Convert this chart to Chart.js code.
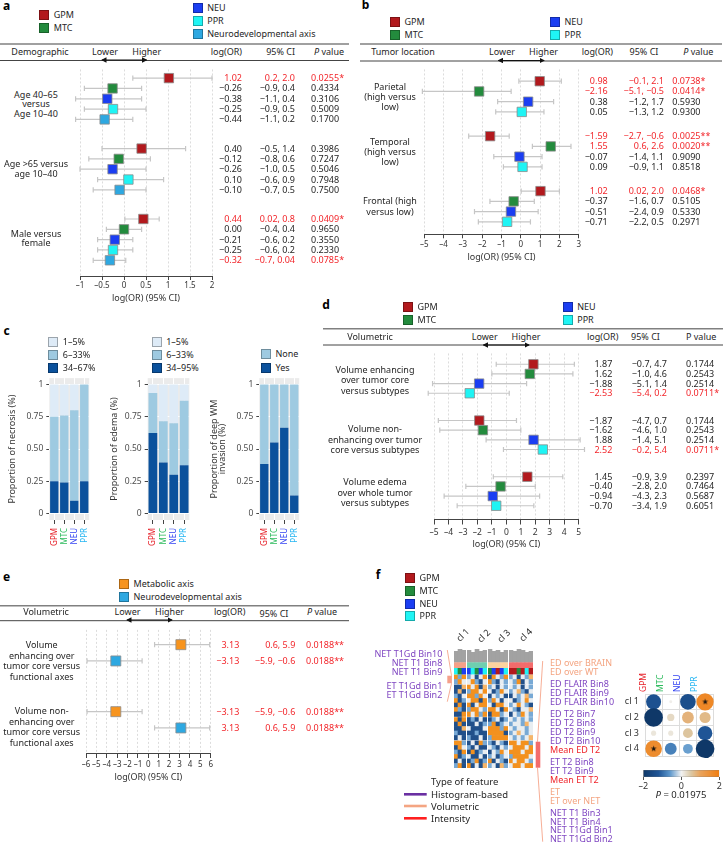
<!DOCTYPE html>
<html>
<head>
<meta charset="utf-8">
<title>Radiomic subtype associations</title>
<script src="https://cdn.jsdelivr.net/npm/chart.js@4.4.1/dist/chart.umd.min.js"></script>
<style>
  html, body { margin: 0; padding: 0; background: #fff; }
  body { position: relative; width: 723px; height: 844px; overflow: hidden;
         font-family: 'Noto Sans', sans-serif; color: #262626; }
  canvas { position: absolute; }
  .t { position: absolute; white-space: pre; font-size: 9px; line-height: 1.15; }
  .sq { position: absolute; width: 10px; height: 10px; box-sizing: border-box; border: 0.6px solid rgba(0,0,0,0.3); }
  svg { position: absolute; left: 0; top: 0; }
</style>
</head>
<body>
<svg width="723" height="844">
  <defs>
    <marker id="ah" viewBox="0 0 6 6" refX="5" refY="3" markerWidth="4.5" markerHeight="4.5" orient="auto-start-reverse">
      <path d="M0,0 L6,3 L0,6 z" fill="#111"/>
    </marker>
  </defs>
  <!-- header rules -->
  <g stroke="#808080" stroke-width="1.4">
    <line x1="0" y1="44" x2="349" y2="44"/>
    <line x1="360" y1="44" x2="722" y2="44"/>
    <line x1="323" y1="328.7" x2="723" y2="328.7"/>
    <line x1="0" y1="605.7" x2="349" y2="605.7"/>
  </g>
  <g stroke="#444" stroke-width="1">
    <line x1="0" y1="60.5" x2="349" y2="60.5"/>
    <line x1="360" y1="61" x2="722" y2="61"/>
    <line x1="323" y1="345" x2="723" y2="345"/>
    <line x1="0" y1="620.7" x2="349" y2="620.7"/>
  </g>
  <!-- lower / higher arrows -->
  <g stroke="#111" stroke-width="1.2" marker-start="url(#ah)" marker-end="url(#ah)">
    <line x1="102" y1="60" x2="146.5" y2="60"/>
    <line x1="498.5" y1="60.5" x2="544" y2="60.5"/>
    <line x1="483.5" y1="345" x2="529" y2="345"/>
    <line x1="127" y1="620" x2="172" y2="620"/>
  </g>
  <!-- f brackets -->
  <g stroke="#f5a58a" stroke-width="0.9" fill="none">
    <polyline points="447.3,650 451.5,675.7"/>
    <polyline points="451.5,683.3 447.3,701.7"/>
    <polyline points="542.7,661 537.5,741.7"/>
    <polyline points="537.5,767.7 542.7,841.7"/>
  </g>
  <rect x="447.3" y="675.7" width="4.6" height="7.6" fill="#f5a08a"/>
  <rect x="535.7" y="741.7" width="4.6" height="26" fill="#f36c6c"/>
  <!-- type of feature legend -->
  <line x1="404" y1="794.3" x2="426.7" y2="794.3" stroke="#6a2fa2" stroke-width="2.6"/>
  <line x1="404" y1="806" x2="426.7" y2="806" stroke="#f4a582" stroke-width="2.6"/>
  <line x1="404" y1="818.3" x2="426.7" y2="818.3" stroke="#ff1f1f" stroke-width="2.6"/>
</svg>
<script>
// ---------- shared ----------
const subtypes = ['GPM', 'MTC', 'NEU', 'PPR'];
const markColor = {
  GPM: '#b2191d', MTC: '#238b3d', NEU: '#1b3ef2', PPR: '#1ff4f4',
  'Neurodevelopmental axis': '#2ea8e1', 'Metabolic axis': '#f7941e'
};
const tagColor = {GPM: '#e61f27', MTC: '#2dbb5d', NEU: '#3444f2', PPR: '#27b6f2'};
const RED = '#f2262b';

// ---------- a: demographic ----------
const aSeries = ['GPM', 'MTC', 'NEU', 'PPR', 'Neurodevelopmental axis'];
const aGroups = ['Age 40–65\nversus\nAge 10–40', 'Age >65 versus\nage 10–40', 'Male versus\nfemale'];
const aLogOR = [1.02, -0.26, -0.38, -0.25, -0.44, 0.40, -0.12, -0.26, 0.10, -0.10, 0.44, 0.00, -0.21, -0.25, -0.32];
const aLow = [0.2, -0.9, -1.1, -0.9, -1.1, -0.5, -0.8, -1.0, -0.6, -0.7, 0.02, -0.4, -0.6, -0.6, -0.7];
const aHigh = [2.0, 0.4, 0.4, 0.5, 0.2, 1.4, 0.6, 0.5, 0.9, 0.5, 0.8, 0.4, 0.2, 0.2, 0.04];
const aP = ['0.0255*', '0.4334', '0.3106', '0.5009', '0.1700', '0.3986', '0.7247', '0.5046', '0.7948', '0.7500',
  '0.0409*', '0.9650', '0.3550', '0.2330', '0.0785*'];

// ---------- b: tumor location ----------
const bGroups = ['Parietal\n(high versus\nlow)', 'Temporal\n(high versus\nlow)', 'Frontal (high\nversus low)'];
const bLogOR = [0.98, -2.16, 0.38, 0.05, -1.59, 1.55, -0.07, 0.09, 1.02, -0.37, -0.51, -0.71];
const bLow = [-0.1, -5.1, -1.2, -1.3, -2.7, 0.6, -1.4, -0.9, 0.02, -1.6, -2.4, -2.2];
const bHigh = [2.1, -0.5, 1.7, 1.2, -0.6, 2.6, 1.1, 1.1, 2.0, 0.7, 0.9, 0.5];
const bP = ['0.0738*', '0.0414*', '0.5930', '0.9300', '0.0025**', '0.0020**', '0.9090', '0.8518',
  '0.0468*', '0.5105', '0.5330', '0.2971'];

// ---------- c: proportions ----------
const cNecrosisLabels = ['1–5%', '6–33%', '34–67%'];
const cNecrosis = [[0.25, 0.24, 0.10, 0.25], [0.50, 0.52, 0.70, 0.75], [0.25, 0.24, 0.20, 0.00]];
const cEdemaLabels = ['1–5%', '6–33%', '34–95%'];
const cEdema = [[0.625, 0.395, 0.30, 0.375], [0.31, 0.32, 0.40, 0.50], [0.065, 0.285, 0.30, 0.125]];
const cWmLabels = ['None', 'Yes'];
const cWm = [[0.385, 0.55, 0.665, 0.14], [0.615, 0.45, 0.335, 0.86]];

// ---------- d: volumetric vs subtypes ----------
const dGroups = ['Volume enhancing\nover tumor core\nversus subtypes', 'Volume non-\nenhancing over tumor\ncore versus subtypes',
  'Volume edema\nover whole tumor\nversus subtypes'];
const dLogOR = [1.87, 1.62, -1.88, -2.53, -1.87, -1.62, 1.88, 2.52, 1.45, -0.40, -0.94, -0.70];
const dLow = [-0.7, -1.0, -5.1, -5.4, -4.7, -4.6, -1.4, -0.2, -0.9, -2.8, -4.3, -3.4];
const dHigh = [4.7, 4.6, 1.4, 0.2, 0.7, 1.0, 5.1, 5.4, 3.9, 2.0, 2.3, 1.9];
const dP = ['0.1744', '0.2543', '0.2514', '0.0711*', '0.1744', '0.2543', '0.2514', '0.0711*',
  '0.2397', '0.7464', '0.5687', '0.6051'];

// ---------- e: volumetric vs functional axes ----------
const eSeries = ['Metabolic axis', 'Neurodevelopmental axis'];
const eGroups = ['Volume\nenhancing over\ntumor core versus\nfunctional axes', 'Volume non-\nenhancing over\ntumor core versus\nfunctional axes'];
const eLogOR = [3.13, -3.13, -3.13, 3.13];
const eLow = [0.6, -5.9, -5.9, 0.6];
const eHigh = [5.9, -0.6, -0.6, 5.9];
const eP = ['0.0188**', '0.0188**', '0.0188**', '0.0188**'];

// ---------- f: clustering ----------
// heatmap, one string per row, clusters separated by spaces (B/b blue, w white, o/O orange)
const fHeat = [
  ['ObO bwBwO BOwbO bwBwbo', 'bOw wObBw ObBwb wbOBwb'],
  ['BBo OwOBo bwBwb wbwBwb', 'BoB bOOwO wBbOw bwobBw', 'bBw OObOw BwbwB Bwbwob', 'OBb wOOBO bOwBw wBbwOw',
   'BOB OBwOO wBOOw bwOwbB', 'ObB bOOwb OOwBO wbBwwo', 'BBO OwObO BOObw BwbOwb'],
  ['OBO BbBwB BbwBb wbwbwb', 'BOB BBwBb bOBbw bwwbow', 'BBo wBBBw OOObO wbwwbw', 'bBB BBbBB OOOOB bwowbw',
   'BwB bBBwB bOOOO wbwbwo'],
  ['OOb BwBOb bBwbB OOwOOb', 'BOw bBwBB wbBwb wOOOwO', 'bBO BOBbw BwbOw OOOwOO', 'OBb wBBwB bwBbw bOOOOw',
   'BwB BbOBb OBwbB OwOOwb', 'bOB OBwBo bwBob wOOwOO']
];
const fSubtypeBar = ['PMN', 'NPMNP', 'MNGNP', 'GGMGPG'];
const fDendro = [[11, 13, 12], [12, 10, 13, 11, 12], [13, 11, 12, 10, 12], [12, 11, 13, 12, 10, 11]];
const fClusters = ['cl 1', 'cl 2', 'cl 3', 'cl 4'];
const fLeftLabels = [['NET T1Gd Bin10', 0], ['NET T1 Bin8', 0], ['NET T1 Bin9', 0], ['ET T1Gd Bin1', 1], ['ET T1Gd Bin2', 1]];
const fRightLabels = [
  ['ED over BRAIN', 'vol', 0], ['ED over WT', 'vol', 0],
  ['ED FLAIR Bin8', 'hist', 1], ['ED FLAIR Bin9', 'hist', 1], ['ED FLAIR Bin10', 'hist', 1],
  ['ED T2 Bin7', 'hist', 2], ['ED T2 Bin8', 'hist', 2], ['ED T2 Bin9', 'hist', 2], ['ED T2 Bin10', 'hist', 2], ['Mean ED T2', 'int', 2],
  ['ET T2 Bin8', 'hist', 3], ['ET T2 Bin9', 'hist', 3], ['Mean ET T2', 'int', 3],
  ['ET', 'vol', 4], ['ET over NET', 'vol', 4],
  ['NET T1 Bin3', 'hist', 5], ['NET T1 Bin4', 'hist', 5], ['NET T1Gd Bin1', 'hist', 5], ['NET T1Gd Bin2', 'hist', 5]
];
// correlation of clusters (rows) with subtypes (columns)
const fCorr = [
  [-1.3, 0.05, -1.4, 1.7],
  [-2.0, 0.3, 0.8, 0.7],
  [0.15, 0.15, 0.55, -1.2],
  [1.6, -0.8, -0.55, -2.0]
];
const fStar = [[0, 0, 0, 1], [0, 0, 0, 0], [0, 0, 0, 0], [1, 0, 0, 0]];
const fScale = [-2, 2];

// ---------- helpers ----------
Chart.defaults.font.family = "'Noto Sans', sans-serif";
Chart.defaults.color = '#333';
Chart.defaults.animation = false;
Chart.defaults.responsive = false;
Chart.defaults.plugins.legend.display = false;
Chart.defaults.plugins.tooltip.enabled = false;

function mkCanvas(left, top, w, h) {
  const c = document.createElement('canvas');
  c.width = w; c.height = h;
  c.style.left = left + 'px'; c.style.top = top + 'px';
  c.style.width = w + 'px'; c.style.height = h + 'px';
  document.body.appendChild(c);
  return c;
}

function put(str, x, y, o = {}) {
  const d = document.createElement('div');
  d.className = 't';
  if (o.html) d.innerHTML = str; else d.textContent = str;
  const tx = o.align === 'r' ? '-100%' : o.align === 'c' ? '-50%' : '0';
  d.style.left = x + 'px';
  d.style.top = y + 'px';
  d.style.transform = 'translate(' + tx + ',-50%)' + (o.rot ? ' rotate(' + o.rot + 'deg)' : '');
  d.style.textAlign = o.align === 'r' ? 'right' : o.align === 'c' ? 'center' : 'left';
  if (o.size) d.style.fontSize = o.size + 'px';
  if (o.lh) d.style.lineHeight = o.lh + 'px';
  if (o.color) d.style.color = o.color;
  if (o.bold) d.style.fontWeight = 'bold';
  document.body.appendChild(d);
  return d;
}

function legend(items, x, top, dy) {
  items.forEach(([name, color], i) => {
    const s = document.createElement('div');
    s.className = 'sq';
    s.style.left = x + 'px';
    s.style.top = (top + i * dy) + 'px';
    s.style.background = color;
    document.body.appendChild(s);
    put(name, x + 14.5, top + i * dy + 5, {size: 9});
  });
}

const minus = s => s.replace('-', '−');
const fmt2 = v => minus(v.toFixed(2));
const fmtCI = v => minus(v.toFixed(Math.abs(v * 10 - Math.round(v * 10)) > 1e-6 ? 2 : 1));

// error bars drawn from the x scale
const whiskers = {
  id: 'whiskers',
  beforeDatasetsDraw(chart) {
    const {ctx, scales: {x, y}} = chart;
    ctx.save();
    ctx.strokeStyle = '#c6c6c6';
    ctx.lineWidth = 1.2;
    chart.data.datasets[0].data.forEach(p => {
      const py = y.getPixelForValue(p.y);
      const x1 = x.getPixelForValue(p.lo), x2 = x.getPixelForValue(p.hi);
      ctx.beginPath();
      ctx.moveTo(x1, py); ctx.lineTo(x2, py);
      ctx.moveTo(x1, py - 2.6); ctx.lineTo(x1, py + 2.6);
      ctx.moveTo(x2, py - 2.6); ctx.lineTo(x2, py + 2.6);
      ctx.stroke();
    });
    ctx.restore();
  }
};

const panelBg = {
  id: 'panelBg',
  beforeDraw(chart, args, opts) {
    const {ctx, chartArea: a} = chart;
    ctx.save();
    ctx.fillStyle = opts.color || '#ebebeb';
    ctx.fillRect(a.left, a.top, a.width, a.height);
    ctx.restore();
  }
};

function forest(L, series, logOR, low, high, pv, groups) {
  const n = series.length;
  const pts = logOR.map((v, i) => ({
    x: v, y: Math.floor(i / n) * L.groupStep + (i % n), lo: low[i], hi: high[i]
  }));
  const chart = new Chart(mkCanvas(L.left, L.top, L.w, L.h), {
    type: 'scatter',
    data: {
      datasets: [{
        data: pts,
        pointStyle: 'rect',
        pointRadius: L.sq / Math.SQRT2,
        backgroundColor: pts.map((p, i) => markColor[series[i % n]]),
        borderColor: '#8c8c8c',
        borderWidth: 0.8,
        clip: false
      }]
    },
    options: {
      layout: {padding: {left: L.padL, right: L.padR, top: 0, bottom: 0}},
      scales: {
        x: {
          min: L.xMin, max: L.xMax,
          ticks: {stepSize: L.step, autoSkip: false, maxRotation: 0, padding: L.tickPad,
            font: {size: L.tickFont}, color: '#333', callback: v => (v < 0 ? '–' : '') + Math.abs(v)},
          grid: {color: '#dcdcdc', tickColor: '#444', tickLength: L.tickLen, tickBorderDash: []},
          border: {color: '#444', width: 1, dash: [2, 2]},
          title: {display: true, text: 'log(OR) (95% CI)', font: {size: 9}, padding: {top: 0, bottom: 2}, color: '#333'},
          afterFit: s => { s.height = L.xh; }
        },
        y: {display: false, reverse: true, min: L.yMin, max: L.yMax}
      }
    },
    plugins: [whiskers]
  });
  const ys = chart.scales.y;
  pts.forEach((p, i) => {
    const y = L.top + ys.getPixelForValue(p.y);
    const col = pv[i].includes('*') ? RED : '#262626';
    put(fmt2(logOR[i]), L.colLog, y, {align: 'r', color: col});
    put(fmtCI(low[i]) + ', ' + fmtCI(high[i]), L.colCI, y, {align: 'r', color: col});
    put(pv[i], L.colP, y, {color: col});
  });
  groups.forEach((g, k) => {
    const y = L.top + ys.getPixelForValue(k * L.groupStep + (n - 1) / 2) + L.labDy[k];
    put(g, L.labX, y, {align: 'c', lh: L.labLh});
  });
}

const cShades = ['#0b519c', '#9ecae1', '#deebf7'];
const cTickVals = {'0': '0', '0.25': '0.25', '0.5': '0.50', '0.75': '0.75', '1': '1'};

function stacked(L, layers, shades, title) {
  new Chart(mkCanvas(L.left, 370, L.w, 180), {
    type: 'bar',
    data: {
      labels: subtypes,
      datasets: layers.map((d, i) => ({
        data: d, backgroundColor: shades[i], borderWidth: 0, barPercentage: 0.84, categoryPercentage: 1
      }))
    },
    options: {
      layout: {padding: {left: 0, right: L.padR, top: 5.7, bottom: 0}},
      plugins: {panelBg: {color: '#ebebeb'}},
      scales: {
        x: {
          stacked: true,
          grid: {color: '#ffffff', offset: false, tickColor: '#444', tickLength: 4},
          border: {display: false},
          ticks: {autoSkip: false, minRotation: 90, maxRotation: 90, padding: 4, font: {size: 8},
            color: c => tagColor[subtypes[c.index]]},
          afterFit: s => { s.height = 30; }
        },
        y: {
          stacked: true, min: -0.05, max: 1.05,
          afterBuildTicks: s => { s.ticks = [0, 0.25, 0.5, 0.75, 1].map(v => ({value: v})); },
          ticks: {padding: 3, font: {size: 8.5}, color: '#4d4d4d', callback: v => cTickVals[String(v)]},
          grid: {color: '#ffffff', tickColor: '#444', tickLength: 3},
          border: {display: false},
          title: {display: true, text: title, padding: 0, color: '#333', font: {size: 9, lineHeight: 0.95}},
          afterFit: s => { s.width = L.yw; }
        }
      }
    },
    plugins: [panelBg]
  });
}

// colour scale shared by bubble plot and colour bar
const corrStops = [[-2, [15, 56, 104]], [-1.2, [31, 85, 150]], [-0.6, [93, 151, 204]], [0, [242, 242, 242]],
  [0.5, [220, 201, 166]], [1.0, [233, 163, 92]], [2, [240, 125, 16]]];
function corrColor(v) {
  for (let i = 1; i < corrStops.length; i++) {
    const [v0, c0] = corrStops[i - 1], [v1, c1] = corrStops[i];
    if (v <= v1) {
      const t = Math.max(0, (v - v0) / (v1 - v0));
      return 'rgb(' + c0.map((c, j) => Math.round(c + (c1[j] - c) * t)).join(',') + ')';
    }
  }
  return 'rgb(' + corrStops[corrStops.length - 1][1].join(',') + ')';
}

// ---------- panel letters ----------
[['a', 6.5, 5.5], ['b', 365.5, 4.5], ['c', 6.5, 331], ['d', 326, 305], ['e', 6.5, 577], ['f', 378, 574.5]]
  .forEach(([l, x, y]) => put(l, x, y, {align: 'c', size: 12, bold: true, color: '#000'}));

// ---------- a ----------
legend([['GPM', markColor.GPM], ['MTC', markColor.MTC]], 39.3, 10, 12.7);
legend([['NEU', markColor.NEU], ['PPR', markColor.PPR], ['Neurodevelopmental axis', markColor['Neurodevelopmental axis']]], 192.7, 2.7, 13.3);
put('Demographic', 40, 52, {align: 'c'});
put('Lower', 105, 52, {align: 'c'});
put('Higher', 146.7, 52, {align: 'c'});
put('log(OR)', 242, 52, {align: 'r'});
put('95% CI', 295, 52, {align: 'r'});
put('<i>P</i> value', 314, 52, {html: true});
forest({left: 62, top: 62, w: 170, h: 244, padL: 18, padR: 20, xMin: -1, xMax: 2, step: 0.5,
  yMin: -0.84, yMax: 19.16, groupStep: 6.82, sq: 9.4, tickLen: 4, tickPad: 1, tickFont: 8, xh: 30,
  colLog: 242, colCI: 295, colP: 311, labX: 36, labDy: [5, 0, -1], labLh: 9.6},
  aSeries, aLogOR, aLow, aHigh, aP, aGroups);

// ---------- b ----------
legend([['GPM', markColor.GPM], ['MTC', markColor.MTC]], 390, 17, 13);
legend([['NEU', markColor.NEU], ['PPR', markColor.PPR]], 550, 17, 13);
put('Tumor location', 403, 52, {align: 'c'});
put('Lower', 502, 52, {align: 'c'});
put('Higher', 543.5, 52, {align: 'c'});
put('log(OR)', 581.7, 52);
put('95% CI', 644, 52, {align: 'c'});
put('<i>P</i> value', 683.3, 52, {html: true});
forest({left: 406, top: 62, w: 190, h: 203, padL: 18.3, padR: 17.3, xMin: -5, xMax: 3, step: 1,
  yMin: -1.15, yMax: 14.93, groupStep: 5.37, sq: 9.4, tickLen: 4.3, tickPad: 2, tickFont: 8, xh: 31,
  colLog: 607.7, colCI: 664, colP: 672.3, labX: 390, labDy: [0, 0, 0], labLh: 10.3},
  subtypes, bLogOR, bLow, bHigh, bP, bGroups);

// ---------- c ----------
legend(cNecrosisLabels.map((l, i) => [l, cShades[2 - i]]), 48.3, 336.7, 13);
legend(cEdemaLabels.map((l, i) => [l, cShades[2 - i]]), 151.7, 336.7, 13);
legend(cWmLabels.map((l, i) => [l, cShades[1 - i]]), 261, 349.3, 13.4);
stacked({left: 8, w: 90, padR: 1.3, yw: 41.3}, cNecrosis, cShades, 'Proportion of necrosis (%)');
stacked({left: 110, w: 88, padR: 2, yw: 37.7}, cEdema, cShades, 'Proportion of edema (%)');
stacked({left: 210, w: 98, padR: 1.3, yw: 49.3}, cWm, cShades, ['Proportion of deep WM', 'invasion (%)']);

// ---------- d ----------
legend([['GPM', markColor.GPM], ['MTC', markColor.MTC]], 403, 302, 13);
legend([['NEU', markColor.NEU], ['PPR', markColor.PPR]], 562.7, 302, 13);
put('Volumetric', 370, 337, {align: 'c'});
put('Lower', 484.7, 337, {align: 'c'});
put('Higher', 526, 337, {align: 'c'});
put('log(OR)', 587, 337);
put('95% CI', 645.5, 337, {align: 'c'});
put('P value', 686, 337);
forest({left: 416, top: 346, w: 180, h: 206, padL: 18, padR: 17.3, xMin: -5, xMax: 5, step: 1,
  yMin: -1.12, yMax: 16.01, groupStep: 5.82, sq: 9.4, tickLen: 5.5, tickPad: 3, tickFont: 8.5, xh: 33,
  colLog: 612.3, colCI: 667, colP: 686, labX: 375, labDy: [2, 5, 2], labLh: 10.5},
  subtypes, dLogOR, dLow, dHigh, dP, dGroups);

// ---------- e ----------
legend(eSeries.map(s => [s, markColor[s]]), 119, 579, 13);
put('Volumetric', 46, 612, {align: 'c'});
put('Lower', 127.5, 612, {align: 'c'});
put('Higher', 169.5, 612, {align: 'c'});
put('log(OR)', 214, 612);
put('95% CI', 274, 614, {align: 'c'});
put('<i>P</i> value', 307, 612, {html: true});
forest({left: 68, top: 622, w: 160, h: 163, padL: 18, padR: 17.3, xMin: -6, xMax: 6, step: 1,
  yMin: -0.91, yMax: 6.66, groupStep: 4.12, sq: 10, tickLen: 5, tickPad: 2, tickFont: 8, xh: 32,
  colLog: 239.3, colCI: 295.3, colP: 306, labX: 41.7, labDy: [8, 7], labLh: 10.7},
  eSeries, eLogOR, eLow, eHigh, eP, eGroups);

// ---------- f ----------
legend(subtypes.map(s => [s, markColor[s]]), 405, 573.3, 12.6);

const heatShade = {B: '#21508a', b: '#78a9d5', w: '#e8edf1', o: '#f5b56a', O: '#f3911f'};
const codeName = {G: 'GPM', M: 'MTC', N: 'NEU', P: 'PPR'};
const fClusterColor = ['#f5a088', '#6fcfb0', '#fdd39f', '#f36c6c'];
const fColBox = [[454, 12], [467, 20], [488, 20], [509, 24]];
const CLEAR = 'rgba(0,0,0,0)';
fColBox.forEach(([left, w], k) => {
  const n = fSubtypeBar[k].length;
  const ds = [];
  const push = (h, colors) => ds.push({data: Array(n).fill(h), backgroundColor: colors,
    borderWidth: 0, barPercentage: 1, categoryPercentage: 1});
  for (let b = fHeat.length - 1; b >= 0; b--) {
    for (let r = fHeat[b].length - 1; r >= 0; r--) {
      push(4.5, [...fHeat[b][r].split(' ')[k]].map(c => heatShade[c]));
    }
    if (b > 0) push(1, CLEAR);
  }
  push(0.7, CLEAR);
  push(6, [...fSubtypeBar[k]].map(c => markColor[codeName[c]]));
  push(0.6, CLEAR);
  push(5, fClusterColor[k]);
  push(0.4, CLEAR);
  ds.push({data: fDendro[k], backgroundColor: '#a2a2a2', borderWidth: 0, barPercentage: 1, categoryPercentage: 1});
  new Chart(mkCanvas(left, 645, w, 123), {
    type: 'bar',
    data: {labels: Array.from({length: n}, (_, i) => 'c' + i), datasets: ds},
    options: {
      layout: {padding: 0},
      scales: {
        x: {display: false, stacked: true},
        y: {display: false, stacked: true, min: 0, max: 123}
      }
    }
  });
});
[['cl 1', 463.3, 635], ['cl 2', 483.7, 636], ['cl 3', 504, 636], ['cl 4', 526, 635]]
  .forEach(([l, x, y]) => put(l, x, y, {align: 'c', rot: -45}));

const HIST = '#8048c2', VOL = '#f4a582', INT = '#f0232a';
const typeColor = {hist: HIST, vol: VOL, int: INT};
fLeftLabels.forEach(([l, g], i) => put(l, 442.3, 654 + i * 9.2 + g * 4.5, {align: 'r', color: HIST}));
fRightLabels.forEach(([l, t, g], i) => put(l, 550, 663.3 + i * 8.95 + g * 3, {color: typeColor[t]}));
put('Type of feature', 431, 781.7, {size: 9.5});
put('Histogram-based', 431, 794.5, {size: 9.5});
put('Volumetric', 431, 806.5, {size: 9.5});
put('Intensity', 431, 818.5, {size: 9.5});

// bubble plot
const starImg = document.createElement('canvas');
starImg.width = starImg.height = 9;
(() => {
  const s = starImg.getContext('2d');
  s.fillStyle = '#111';
  s.font = '8px "DejaVu Sans"';
  s.textAlign = 'center';
  s.textBaseline = 'middle';
  s.fillText('★', 4.5, 5);
})();
const bubbles = [], stars = [];
fCorr.forEach((row, i) => row.forEach((v, j) => {
  bubbles.push({x: subtypes[j], y: fClusters[i], r: 6.6 * Math.sqrt(Math.abs(v)), v});
  if (fStar[i][j]) stars.push({x: subtypes[j], y: fClusters[i], r: 3});
}));
new Chart(mkCanvas(615, 665, 108, 103), {
  type: 'bubble',
  data: {
    datasets: [
      // lower index is drawn on top, so the stars come first
      {data: stars, pointStyle: starImg, backgroundColor: '#111', borderWidth: 0, clip: false},
      {data: bubbles, backgroundColor: bubbles.map(p => corrColor(p.v)), borderWidth: 0, clip: false}
    ]
  },
  options: {
    layout: {padding: {right: 5, bottom: 1}},
    scales: {
      x: {
        type: 'category', labels: subtypes, position: 'top', offset: true,
        grid: {offset: true, color: '#dcdcdc', drawTicks: false},
        border: {color: '#dcdcdc'},
        ticks: {autoSkip: false, minRotation: 90, maxRotation: 90, padding: 2, font: {size: 8.5},
          color: c => tagColor[subtypes[c.index]]},
        afterFit: s => { s.height = 29; }
      },
      y: {
        type: 'category', labels: fClusters, offset: true,
        grid: {offset: true, color: '#dcdcdc', drawTicks: false},
        border: {color: '#dcdcdc'},
        ticks: {autoSkip: false, padding: 6, font: {size: 9}, color: '#333'},
        afterFit: s => { s.width = 30; }
      }
    }
  }
});

// colour bar
new Chart(mkCanvas(635, 766, 88, 25), {
  type: 'bar',
  data: {
    labels: [''],
    datasets: [{
      data: [fScale],
      backgroundColor: ctx => {
        const a = ctx.chart.chartArea;
        if (!a) return '#ccc';
        const g = ctx.chart.ctx.createLinearGradient(a.left, 0, a.right, 0);
        corrStops.forEach(([v, c]) => g.addColorStop((v - fScale[0]) / (fScale[1] - fScale[0]), 'rgb(' + c.join(',') + ')'));
        return g;
      },
      borderColor: '#777', borderWidth: 0.6, borderSkipped: false,
      barPercentage: 1, categoryPercentage: 1
    }]
  },
  options: {
    indexAxis: 'y',
    layout: {padding: {left: 8.3, right: 3.7, top: 4, bottom: 0}},
    scales: {
      y: {display: false},
      x: {
        min: fScale[0], max: fScale[1],
        ticks: {stepSize: 2, padding: 1, font: {size: 9}, color: '#333', callback: v => (v < 0 ? '–' : '') + Math.abs(v)},
        grid: {drawOnChartArea: false, tickLength: 3, tickColor: '#555'},
        border: {display: false},
        afterFit: s => { s.height = 14; }
      }
    }
  }
});
put('<i>P</i> = 0.01975', 681, 795, {align: 'c', html: true, size: 9.5});
</script>
</body>
</html>
